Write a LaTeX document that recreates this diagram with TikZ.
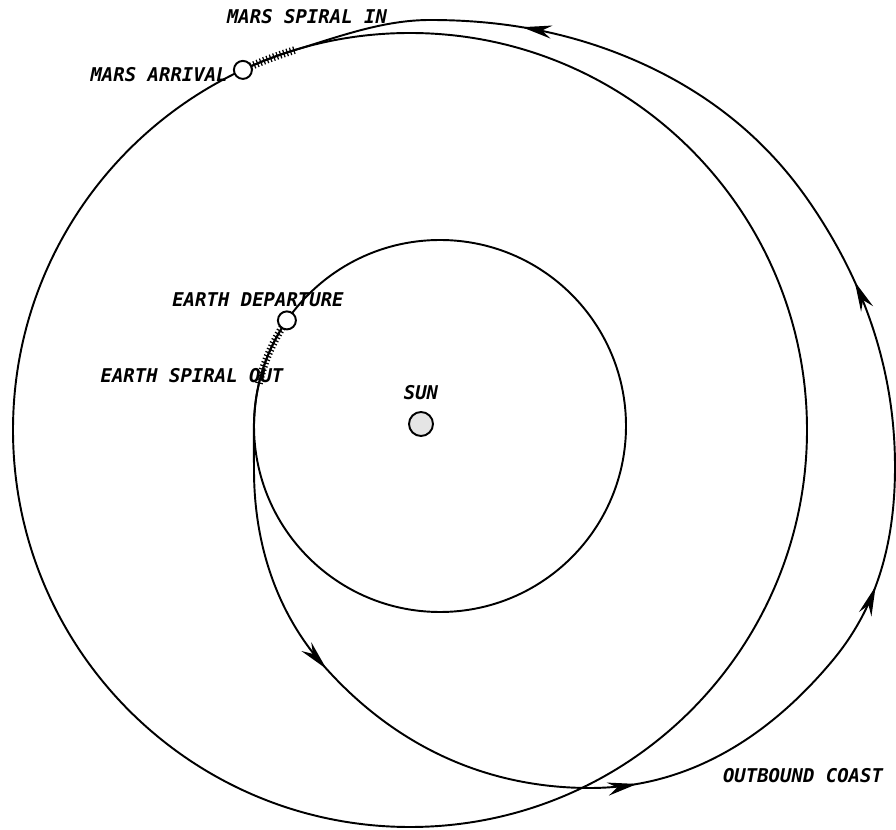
\documentclass[tikz,border=0pt]{standalone}
\usepackage{fontspec}
\usepackage{tikz}
\usetikzlibrary{arrows.meta,decorations.markings,decorations.pathreplacing}
\newfontfamily\orbitfont[ItalicFont={DejaVu Sans Mono Oblique},BoldItalicFont={DejaVu Sans Mono Bold Oblique}]{DejaVu Sans Mono}
\tikzset{
  orbit/.style={line width=1.1pt},
  orbitlbl/.style={font=\orbitfont\bfseries\itshape\fontsize{10.8}{12}\selectfont,inner sep=0pt},
  planet/.style={circle,draw,line width=1.1pt,fill=white,inner sep=0pt,minimum size=0.36cm},
  spiral/.style={orbit,postaction={draw,line width=0.7pt,decorate,decoration={ticks,segment length=2pt,amplitude=2.2pt}}},
  coast/.style={orbit,postaction={decorate,decoration={markings,
    mark=at position 0.155 with {\arrow{Stealth[length=17pt,width=7.5pt]}},
    mark=at position 0.332 with {\arrow{Stealth[length=17pt,width=7.5pt]}},
    mark=at position 0.497 with {\arrow{Stealth[length=17pt,width=7.5pt]}},
    mark=at position 0.657 with {\arrow{Stealth[length=17pt,width=7.5pt]}},
    mark=at position 0.881 with {\arrow{Stealth[length=17pt,width=7.5pt]}}}}}
}

\begin{document}
\begin{tikzpicture}[x=0.02cm,y=-0.02cm,>=Stealth]
  \useasboundingbox (0,0) rectangle (896,830);
  \coordinate (earthc) at (440,426);
  \coordinate (marsc) at (410,430);
  \draw[orbit] (earthc) circle[radius=186];
  \draw[orbit] (marsc) circle[radius=397];
  \node[planet,minimum size=0.48cm,fill=gray!20] (sun) at (421,424) {};
  \node[planet] (dep) at (286.9,320.4) {};
  \node[planet] (arr) at (242.9,69.9) {};
  \coordinate (coaststart) at (258.8,384.2);
  \coordinate (coastend) at (293.9,50.4);
  \draw[spiral] (earthc) ++(211.8:186) arc[start angle=211.8,end angle=193,radius=186];
  \draw[coast] (coaststart)
    .. controls (252.0,413.4) and (254,440) .. (254,470)
    .. controls (254,542) and (275.5,611) .. (323,665)
    .. controls (393,744.5) and (484,788) .. (590,788)
    .. controls (689,788) and (769.6,736.2) .. (833,660)
    .. controls (878.4,605.3) and (895,540) .. (895,467)
    .. controls (895,369) and (863.9,280.4) .. (808,200)
    .. controls (760.1,131.1) and (695.1,83.2) .. (617,53)
    .. controls (556.5,29.6) and (495,20) .. (430,20)
    .. controls (383,20) and (338.8,36.7) .. (coastend);
  \draw[spiral] (marsc) ++(-107:397) arc[start angle=-107,end angle=-113.6,radius=397];
  \node[orbitlbl] (lblspiralin) at (307,17) {MARS SPIRAL IN};
  \node[orbitlbl,anchor=east] (lblarrival) at (228,75) {MARS ARRIVAL};
  \node[orbitlbl] (lbldeparture) at (258,300) {EARTH DEPARTURE};
  \node[orbitlbl] (lblspiralout) at (192,376) {EARTH SPIRAL OUT};
  \node[orbitlbl] (lblsun) at (421,393) {SUN};
  \node[orbitlbl] (lblcoast) at (803,776) {OUTBOUND COAST};
\end{tikzpicture}
\end{document}
